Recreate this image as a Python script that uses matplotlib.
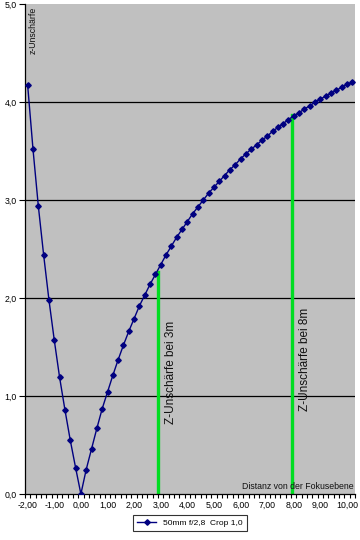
import numpy as np
import matplotlib
matplotlib.use('Agg')
from matplotlib import pyplot as plt
from matplotlib.ticker import FixedLocator

plt.rcParams['font.family'] = ['Liberation Sans', 'DejaVu Sans']

# distance from focal plane (m), step 0.2
x_dist = np.round(np.arange(-2.0, 10.21, 0.2), 1)
# z-blur values
z_left = [4.17, 3.52, 2.94, 2.44, 1.98, 1.57, 1.19, 0.86, 0.55, 0.27]
z_right = [0.00, 0.25, 0.46, 0.67, 0.87, 1.04, 1.21, 1.37, 1.52, 1.66,
           1.79, 1.92, 2.03, 2.14, 2.24, 2.34, 2.44, 2.53, 2.62, 2.70,
           2.78, 2.86, 2.93, 3.00, 3.07, 3.13, 3.19, 3.25, 3.31, 3.36,
           3.42, 3.47, 3.52, 3.56, 3.61, 3.65, 3.70, 3.74, 3.78, 3.82,
           3.86, 3.89, 3.93, 3.96, 4.00, 4.03, 4.06, 4.09, 4.12, 4.15,
           4.18, 4.20]
z_blur = z_left + z_right

series_label = '50mm f/2,8  Crop 1,0'
marker_x = [2.9, 7.95]
marker_top = [2.27, 3.87]
marker_text = ['Z-Unschärfe bei 3m', 'Z-Unschärfe bei 8m']
marker_text_y = [1.24, 1.37]

xtick_vals = list(range(-2, 11))
ytick_vals = [0, 1, 2, 3, 4, 5]

fig = plt.figure(figsize=(3.6, 5.4), dpi=100)
ax = fig.add_axes([25 / 360, 46 / 540, 330 / 360, 490 / 540])
ax.set_facecolor('#c0c0c0')

for yv in ytick_vals[1:5]:
    ax.axhline(yv, color='black', lw=0.9, zorder=1)

ax.plot(x_dist, z_blur, color='#000080', lw=1.0, marker='D', ms=2.8,
        mfc='#000080', mec='#000080', label=series_label, zorder=3)

for xv, top, txt, ty in zip(marker_x, marker_top, marker_text, marker_text_y):
    ax.plot([xv, xv], [0, top], color='#00dd22', lw=2.4, zorder=2)
    ax.text(xv + 0.47, ty, txt, rotation=90, ha='center', va='center',
            fontsize=8.5, color='#111111', zorder=4)

ax.text(-1.8, 4.97, 'z-Unschärfe', rotation=90, ha='center', va='top',
        fontsize=6.3, color='#111111')
ax.text(10.25, 0.03, 'Distanz von der Fokusebene', ha='right', va='bottom',
        fontsize=6.3, color='#111111')

ax.set_xlim(-2.1, 10.3)
ax.set_ylim(0, 5)
ax.set_xticks(xtick_vals)
ax.set_xticklabels([f'{v:.2f}'.replace('.', ',') for v in xtick_vals], fontsize=6.3)
ax.xaxis.set_minor_locator(FixedLocator(np.arange(-2.1, 10.31, 0.2)))
ax.tick_params(axis='x', which='major', length=0, pad=5)
ax.tick_params(axis='x', which='minor', length=3, width=0.8, direction='out')
ax.set_yticks(ytick_vals)
ax.set_yticklabels([f'{v:.1f}'.replace('.', ',') for v in ytick_vals], fontsize=6.3)
ax.tick_params(axis='y', length=4, width=0.8, direction='out', pad=2)

ax.spines['top'].set_visible(False)
ax.spines['right'].set_visible(False)
ax.spines['left'].set_linewidth(0.9)
ax.spines['bottom'].set_linewidth(0.9)

leg = fig.legend(loc='center', bbox_to_anchor=(190 / 360, 17 / 540), fontsize=6.0,
                 frameon=True, fancybox=False, edgecolor='black', handlelength=2.3,
                 borderpad=0.5)
leg.get_frame().set_linewidth(0.8)

fig.savefig('out.png', dpi=100)
